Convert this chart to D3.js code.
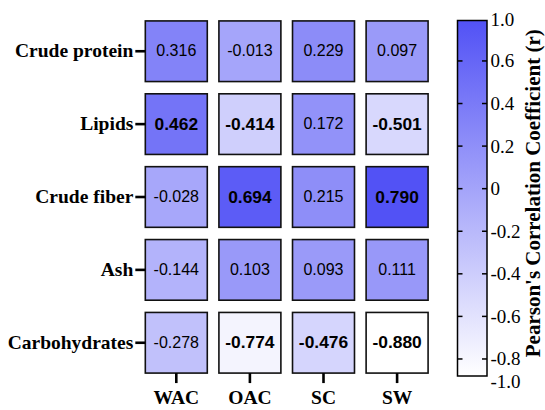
<!DOCTYPE html>
<html>
<head>
<meta charset="utf-8">
<script src="https://cdn.jsdelivr.net/npm/d3@7"></script>
<style>
  body { margin: 0; background: #fff; }
  svg { display: block; }
</style>
</head>
<body>
<svg id="chart" width="545" height="410"></svg>
<script>
const rowNames = ['Crude protein', 'Lipids', 'Crude fiber', 'Ash', 'Carbohydrates'];
const colNames = ['WAC', 'OAC', 'SC', 'SW'];
const values = [
  [0.316, -0.013, 0.229, 0.097],
  [0.462, -0.414, 0.172, -0.501],
  [-0.028, 0.694, 0.215, 0.790],
  [-0.144, 0.103, 0.093, 0.111],
  [-0.278, -0.774, -0.476, -0.880],
];
const barTicks = [0.6, 0.4, 0.2, 0, -0.2, -0.4, -0.6, -0.8];
const barEndLabels = ['1.0', '-1.0'];
const SIG = 0.4;

const SERIF = '"Liberation Serif"';
const SANS = '"Liberation Sans"';

const svg = d3.select('#chart');

const cells = [];
values.forEach((row, r) => row.forEach((v, c) => {
  cells.push({ row: rowNames[r], col: colNames[c], value: v });
}));
const vMin = d3.min(cells, (d) => d.value);
const vMax = d3.max(cells, (d) => d.value);

const color = d3.scaleLinear()
  .domain([vMin, vMax])
  .range(['#ffffff', '#5252f5'])
  .interpolate(d3.interpolateRgb);

const x = d3.scaleBand()
  .domain(colNames)
  .range([139.5, 433.9])
  .paddingInner(0.158)
  .paddingOuter(0.079);

const y = d3.scaleBand()
  .domain(rowNames)
  .range([14.8, 379.2])
  .paddingInner(0.168)
  .paddingOuter(0.084);

// cells
const g = svg.append('g').attr('id', 'cells');
g.selectAll('rect')
  .data(cells)
  .enter()
    .append('rect')
    .attr('x', (d) => x(d.col))
    .attr('y', (d) => y(d.row))
    .attr('width', x.bandwidth())
    .attr('height', y.bandwidth())
    .attr('fill', (d) => color(d.value))
    .attr('stroke', '#111')
    .attr('stroke-width', 1.6);

g.selectAll('text')
  .data(cells)
  .enter()
    .append('text')
    .style('font-family', SANS)
    .attr('x', (d) => x(d.col) + x.bandwidth() / 2)
    .attr('y', (d) => y(d.row) + y.bandwidth() / 2 - 0.5)
    .attr('text-anchor', 'middle')
    .attr('dominant-baseline', 'central')
    .attr('font-size', (d) => Math.abs(d.value) >= SIG ? 17.4 : 16)
    .attr('font-weight', (d) => Math.abs(d.value) >= SIG ? 'bold' : 'normal')
    .attr('fill', '#000')
    .text((d) => d.value.toFixed(3));

// left axis
const yAxis = svg.append('g')
  .attr('transform', `translate(${x.range()[0] + x.step() * x.paddingOuter()},0)`)
  .call(d3.axisLeft(y).tickSize(10).tickPadding(2));
yAxis.select('.domain').remove();
yAxis.selectAll('line').attr('stroke', '#000').attr('stroke-width', 2.6);
yAxis.selectAll('text')
  .attr('fill', '#000')
  .attr('font-size', 19.5)
  .attr('font-weight', 'bold')
  .style('font-family', SERIF);

// bottom axis
const yBottom = y(rowNames[rowNames.length - 1]) + y.bandwidth();
const xAxis = svg.append('g')
  .attr('transform', `translate(0,${yBottom})`)
  .call(d3.axisBottom(x).tickSize(10).tickPadding(4));
xAxis.select('.domain').remove();
xAxis.selectAll('line').attr('stroke', '#000').attr('stroke-width', 2.6);
xAxis.selectAll('text')
  .attr('fill', '#000')
  .attr('dy', '0.85em')
  .attr('font-size', 19.5)
  .attr('font-weight', 'bold')
  .style('font-family', SERIF);

// colour bar
const barX = 457.5;
const barW = 29.5;
const barTop = 20.5;
const barBottom = 376;
const barScale = d3.scaleLinear().domain([vMin, vMax]).range([barBottom, barTop]);

const defs = svg.append('defs');
const grad = defs.append('linearGradient')
  .attr('id', 'bar-grad')
  .attr('x1', 0).attr('y1', 1).attr('x2', 0).attr('y2', 0);
grad.selectAll('stop')
  .data(color.domain())
  .enter()
    .append('stop')
    .attr('offset', (d, i) => i)
    .attr('stop-color', (d) => color(d));

svg.append('rect')
  .attr('x', barX)
  .attr('y', barTop)
  .attr('width', barW)
  .attr('height', barBottom - barTop)
  .attr('fill', 'url(#bar-grad)')
  .attr('stroke', '#000')
  .attr('stroke-width', 1.5);

const barG = svg.append('g').attr('id', 'bar-ticks');
barG.selectAll('line.l')
  .data(barTicks)
  .enter()
    .append('line')
    .attr('x1', barX).attr('x2', barX + 5)
    .attr('y1', (d) => barScale(d)).attr('y2', (d) => barScale(d))
    .attr('stroke', '#000').attr('stroke-width', 1.5);
barG.selectAll('line.r')
  .data(barTicks)
  .enter()
    .append('line')
    .attr('x1', barX + barW - 5).attr('x2', barX + barW)
    .attr('y1', (d) => barScale(d)).attr('y2', (d) => barScale(d))
    .attr('stroke', '#000').attr('stroke-width', 1.5);
barG.selectAll('text.tick')
  .data(barTicks)
  .enter()
    .append('text')
    .style('font-family', SERIF)
    .attr('font-size', 19)
    .attr('x', barX + barW + 3.5)
    .attr('y', (d) => barScale(d))
    .attr('dominant-baseline', 'central')
    .text((d) => d === 0 ? '0' : d.toFixed(1));
barG.selectAll('text.end')
  .data(barEndLabels)
  .enter()
    .append('text')
    .style('font-family', SERIF)
    .attr('font-size', 19)
    .attr('x', barX + barW + 3.5)
    .attr('y', (d, i) => i === 0 ? barTop - 1 : barBottom + 5)
    .attr('dominant-baseline', 'central')
    .text((d) => d);

svg.append('text')
  .style('font-family', SERIF)
  .attr('font-size', 21)
  .attr('font-weight', 'bold')
  .attr('transform', `translate(540,${(barTop + barBottom) / 2 - 5}) rotate(-90)`)
  .attr('text-anchor', 'middle')
  .text("Pearson's Correlation Coefficient (r)");
</script>
</body>
</html>
